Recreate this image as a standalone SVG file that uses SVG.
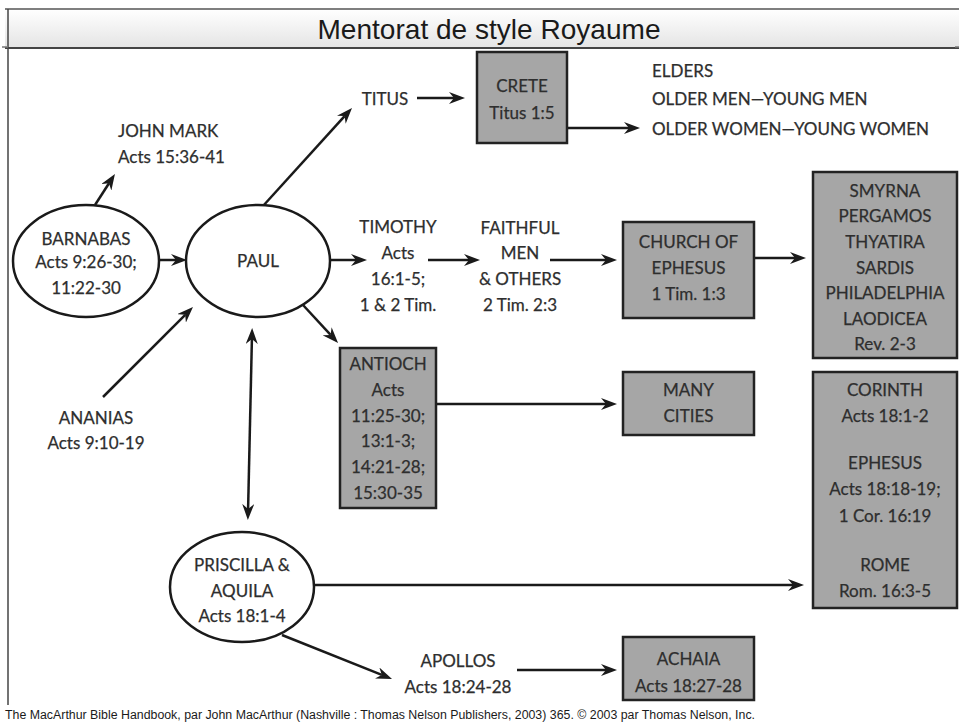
<svg xmlns="http://www.w3.org/2000/svg" width="959" height="725" viewBox="0 0 959 725">
  <defs>
    <linearGradient id="titleFill" x1="0" y1="0" x2="0" y2="1">
      <stop offset="0" stop-color="#ffffff"/>
      <stop offset="1" stop-color="#e4e4e4"/>
    </linearGradient>
    <marker id="arrow" viewBox="0 0 16 12" refX="5" refY="6" markerWidth="16" markerHeight="12" markerUnits="userSpaceOnUse" orient="auto-start-reverse">
      <path d="M0,0 L16,6 L0,12 L5,6 z" fill="#1a1a1a"/>
    </marker>
    <style>
      .lbl { font-family: Lato, "Noto Sans", "DejaVu Sans", sans-serif; font-size: 17px; fill: #2e2e2e; dominant-baseline: central; stroke: #2e2e2e; stroke-width: 0.25; }
      .mid { text-anchor: middle; }
      .oval { fill: #ffffff; stroke: #1a1a1a; stroke-width: 2.5; }
      .box { fill: #a6a6a6; stroke: #222222; stroke-width: 2.5; }
      .link { fill: none; stroke: #1a1a1a; stroke-width: 2.5; }
      .arr { marker-end: url(#arrow); }
    </style>
  </defs>

  <rect width="959" height="725" fill="#ffffff"/>

  <!-- title bar and frame -->
  <g id="title">
    <rect x="5" y="9" width="954" height="39" fill="url(#titleFill)"/>
    <line x1="5" y1="9" x2="959" y2="9" stroke="#555555" stroke-width="1.5"/>
    <line x1="5" y1="48" x2="959" y2="48" stroke="#444444" stroke-width="2"/>
    <line x1="8" y1="9" x2="8" y2="705" stroke="#444444" stroke-width="1.5"/>
    <line x1="2" y1="47" x2="8" y2="47" stroke="#777777" stroke-width="1.5"/>
    <line x1="955" y1="47" x2="959" y2="47" stroke="#777777" stroke-width="1.5"/>
    <text x="489" y="39" text-anchor="middle" font-family="'Liberation Sans', Arial, sans-serif" font-size="28" fill="#1a1a1a" textLength="343" lengthAdjust="spacingAndGlyphs">Mentorat de style Royaume</text>
  </g>

  <!-- connectors -->
  <g id="connectors">
    <line class="link arr" x1="95" y1="205" x2="109" y2="183.2"/>
    <line class="link arr" x1="159" y1="260" x2="176" y2="260"/>
    <line class="link arr" x1="103" y1="397" x2="185.2" y2="314.8"/>
    <line class="link arr" x1="263" y1="206" x2="344.6" y2="116.1"/>
    <line class="link arr" x1="417" y1="98" x2="454" y2="98"/>
    <line class="link arr" x1="567" y1="128" x2="629" y2="128"/>
    <line class="link arr" x1="330" y1="260" x2="356" y2="260"/>
    <line class="link arr" x1="428" y1="260" x2="469" y2="260"/>
    <line class="link arr" x1="550" y1="260" x2="606" y2="260"/>
    <line class="link arr" x1="754" y1="258" x2="795" y2="258"/>
    <line class="link arr" x1="303" y1="305" x2="330.6" y2="334.9"/>
    <line class="link arr" x1="436" y1="404" x2="606" y2="404"/>
    <line class="link" x1="251.9" y1="339" x2="248.1" y2="509" marker-start="url(#arrow)" marker-end="url(#arrow)"/>
    <line class="link arr" x1="314" y1="585" x2="793" y2="585"/>
    <line class="link arr" x1="282" y1="635" x2="381.8" y2="674.9"/>
    <line class="link arr" x1="517" y1="670" x2="606" y2="670"/>
  </g>

  <!-- people -->
  <g id="barnabas">
    <ellipse class="oval" cx="86" cy="261" rx="73" ry="56"/>
    <text class="lbl mid" x="86" y="238">BARNABAS</text>
    <text class="lbl mid" x="86" y="261">Acts 9:26-30;</text>
    <text class="lbl mid" x="86" y="287">11:22-30</text>
  </g>

  <g id="paul">
    <ellipse class="oval" cx="258" cy="261" rx="72" ry="56"/>
    <text class="lbl mid" x="258" y="260">PAUL</text>
  </g>

  <g id="priscilla-aquila">
    <ellipse class="oval" cx="242" cy="587" rx="72" ry="55"/>
    <text class="lbl mid" x="242" y="564">PRISCILLA &amp;</text>
    <text class="lbl mid" x="242" y="590">AQUILA</text>
    <text class="lbl mid" x="242" y="615">Acts 18:1-4</text>
  </g>

  <g id="john-mark">
    <text class="lbl" x="118" y="130">JOHN MARK</text>
    <text class="lbl" x="118" y="156">Acts 15:36-41</text>
  </g>

  <g id="ananias">
    <text class="lbl mid" x="96" y="417">ANANIAS</text>
    <text class="lbl mid" x="96" y="442">Acts 9:10-19</text>
  </g>

  <g id="titus">
    <text class="lbl mid" x="385" y="98">TITUS</text>
  </g>

  <g id="timothy">
    <text class="lbl mid" x="398" y="226">TIMOTHY</text>
    <text class="lbl mid" x="398" y="252">Acts</text>
    <text class="lbl mid" x="398" y="278">16:1-5;</text>
    <text class="lbl mid" x="398" y="304">1 &amp; 2 Tim.</text>
  </g>

  <g id="faithful-men">
    <text class="lbl mid" x="520" y="227">FAITHFUL</text>
    <text class="lbl mid" x="520" y="252">MEN</text>
    <text class="lbl mid" x="520" y="278">&amp; OTHERS</text>
    <text class="lbl mid" x="520" y="304">2 Tim. 2:3</text>
  </g>

  <g id="apollos">
    <text class="lbl mid" x="458" y="660">APOLLOS</text>
    <text class="lbl mid" x="458" y="686">Acts 18:24-28</text>
  </g>

  <g id="elders">
    <text class="lbl" x="652" y="70">ELDERS</text>
    <text class="lbl" x="652" y="98">OLDER MEN—YOUNG MEN</text>
    <text class="lbl" x="652" y="128">OLDER WOMEN—YOUNG WOMEN</text>
  </g>

  <!-- places -->
  <g id="crete">
    <rect class="box" x="477" y="52" width="90" height="91"/>
    <text class="lbl mid" x="522" y="85">CRETE</text>
    <text class="lbl mid" x="522" y="112">Titus 1:5</text>
  </g>

  <g id="church-of-ephesus">
    <rect class="box" x="623" y="222" width="131" height="96"/>
    <text class="lbl mid" x="688.5" y="241">CHURCH OF</text>
    <text class="lbl mid" x="688.5" y="267">EPHESUS</text>
    <text class="lbl mid" x="688.5" y="293">1 Tim. 1:3</text>
  </g>

  <g id="seven-churches">
    <rect class="box" x="813" y="172" width="144" height="186"/>
    <text class="lbl mid" x="885" y="190">SMYRNA</text>
    <text class="lbl mid" x="885" y="215">PERGAMOS</text>
    <text class="lbl mid" x="885" y="241">THYATIRA</text>
    <text class="lbl mid" x="885" y="267">SARDIS</text>
    <text class="lbl mid" x="885" y="292">PHILADELPHIA</text>
    <text class="lbl mid" x="885" y="318">LAODICEA</text>
    <text class="lbl mid" x="885" y="343">Rev. 2-3</text>
  </g>

  <g id="antioch">
    <rect class="box" x="340" y="348" width="96" height="160"/>
    <text class="lbl mid" x="388" y="363">ANTIOCH</text>
    <text class="lbl mid" x="388" y="389">Acts</text>
    <text class="lbl mid" x="388" y="415">11:25-30;</text>
    <text class="lbl mid" x="388" y="440">13:1-3;</text>
    <text class="lbl mid" x="388" y="466">14:21-28;</text>
    <text class="lbl mid" x="388" y="492">15:30-35</text>
  </g>

  <g id="many-cities">
    <rect class="box" x="623" y="372" width="131" height="63"/>
    <text class="lbl mid" x="688.5" y="389">MANY</text>
    <text class="lbl mid" x="688.5" y="415">CITIES</text>
  </g>

  <g id="corinth-ephesus-rome">
    <rect class="box" x="813" y="372" width="144" height="236"/>
    <text class="lbl mid" x="885" y="389">CORINTH</text>
    <text class="lbl mid" x="885" y="415">Acts 18:1-2</text>
    <text class="lbl mid" x="885" y="462">EPHESUS</text>
    <text class="lbl mid" x="885" y="488">Acts 18:18-19;</text>
    <text class="lbl mid" x="885" y="515">1 Cor. 16:19</text>
    <text class="lbl mid" x="885" y="564">ROME</text>
    <text class="lbl mid" x="885" y="590">Rom. 16:3-5</text>
  </g>

  <g id="achaia">
    <rect class="box" x="623" y="637" width="131" height="63"/>
    <text class="lbl mid" x="688.5" y="658">ACHAIA</text>
    <text class="lbl mid" x="688.5" y="685">Acts 18:27-28</text>
  </g>

  <!-- source line -->
  <g id="source">
    <text x="5" y="719" font-family="'Liberation Sans', Arial, sans-serif" font-size="12" fill="#1a1a1a" textLength="750" lengthAdjust="spacingAndGlyphs">The MacArthur Bible Handbook, par John MacArthur (Nashville : Thomas Nelson Publishers, 2003) 365. © 2003 par Thomas Nelson, Inc.</text>
  </g>
</svg>
